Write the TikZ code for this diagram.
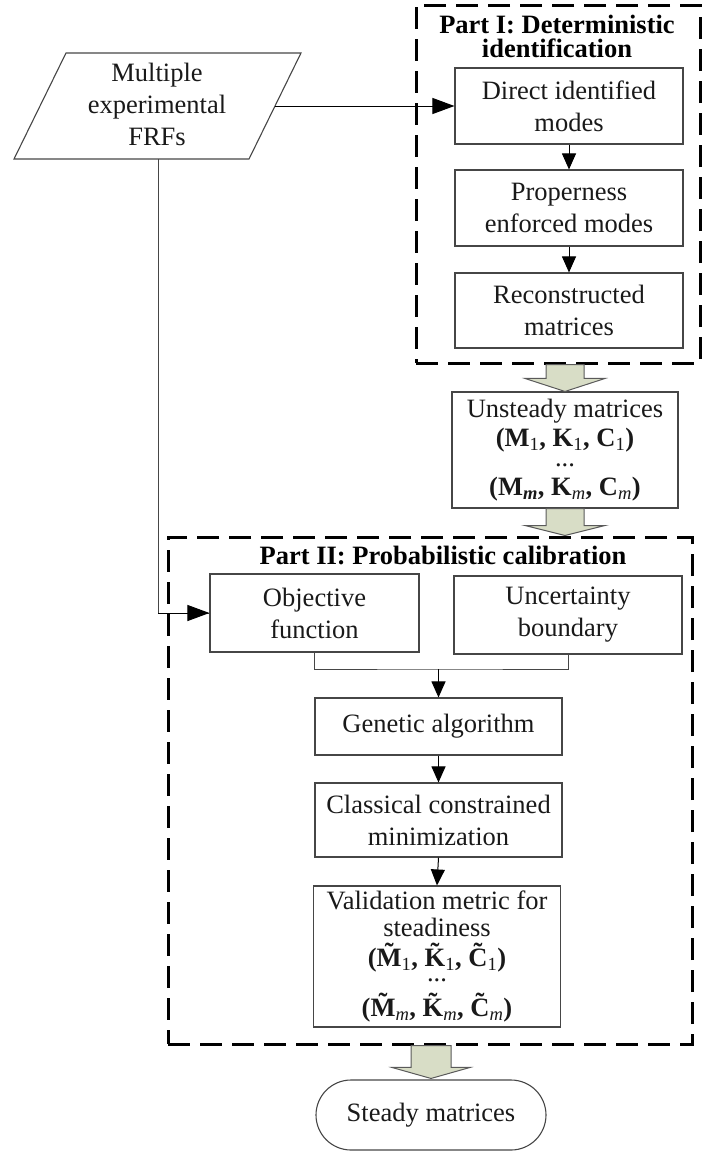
\documentclass[tikz,border=0pt]{standalone}
\usepackage{fontspec}
\setmainfont{Liberation Serif}
\usetikzlibrary{arrows.meta,shapes.misc,calc}
\definecolor{fatfill}{RGB}{216,221,198}
\definecolor{fatline}{RGB}{90,90,90}
\definecolor{boxline}{RGB}{70,70,70}
\newcommand\tld[1]{{\setbox0\hbox{#1}\rlap{\hbox to\wd0{\hss\raisebox{0.2em}{\char"02DC}\hss}}\box0}}
\begin{document}
\begin{tikzpicture}[x=1pt,y=-1pt,
  box/.style={draw=boxline, line width=1.1pt, align=center, inner sep=0pt,
    font=\fontsize{26.5}{32}\selectfont, text=black!90},
  ttl/.style={align=center, inner sep=0pt, font=\fontsize{26.5}{25}\selectfont\bfseries},
  frame/.style={draw=black, line width=3pt, dash pattern=on 22pt off 10pt},
  arrin/.style={-{Triangle[length=22pt,width=16pt]}, line width=1pt, draw=black},
  arr/.style={-{Triangle[length=16pt,width=14pt]}, line width=1pt, draw=black},
  conn/.style={line width=1pt, draw=boxline},
  fat/.style={draw=fatline, fill=fatfill, line width=1pt}]
\useasboundingbox (0,0) rectangle (709,1151);

% input parallelogram
\draw[conn, line width=1.1pt] (14,159) -- (66,53) -- (301,53) -- (249,159) -- cycle;
\node[align=center, inner sep=0pt, font=\fontsize{26.5}{32}\selectfont, text=black!90] (inp) at (157,104) {Multiple\\experimental\\FRFs};
\coordinate (inpR) at (275,106);
\coordinate (inpB) at (158,159);

% Part I
\node[frame, minimum width=284, minimum height=358] (p1) at (558,184) {};
\node[ttl] (t1) at (557,36) {Part I: Deterministic\\[-1pt]identification};
\node[box, minimum width=228, minimum height=76] (d1) at (569,106) {Direct identified\\modes};
\node[box, minimum width=228, minimum height=76] (d2) at (569,208) {Properness\\enforced modes};
\node[box, minimum width=228, minimum height=75] (d3) at (569,310.5) {Reconstructed\\matrices};

% Unsteady
\node[box, minimum width=226, minimum height=116, font=\fontsize{26.5}{29}\selectfont] (uns) at (565,450)
 {Unsteady matrices\\
  \textbf{(M}\textsubscript{1}\textbf{, K}\textsubscript{1}\textbf{, C}\textsubscript{1}\textbf{)}\\[-9pt]
  ...\\
  \textbf{(M}\textsubscript{\textbf{\textit{m}}}\textbf{, K}\textsubscript{\textit{m}}\textbf{, C}\textsubscript{\textit{m}}\textbf{)}};

% Part II
\node[frame, minimum width=524, minimum height=507] (p2) at (430,790.5) {};
\node[ttl] (t2) at (443,555) {Part II: Probabilistic calibration};
\node[box, minimum width=209, minimum height=78] (obj) at (314.5,613) {Objective\\function};
\node[box, minimum width=228, minimum height=78] (unc) at (568,615) {Uncertainty\\boundary};
\node[box, minimum width=247, minimum height=57] (gen) at (438.5,726.5) {Genetic algorithm};
\node[box, minimum width=247, minimum height=74] (cla) at (438.5,820) {Classical constrained\\minimization};
\node[box, minimum width=247, minimum height=141, font=\fontsize{26.5}{27}\selectfont] (val) at (437,956.5)
 {Validation metric for\\steadiness\\[3pt]
  \textbf{(\tld{M}}\textsubscript{1}\textbf{, \tld{K}}\textsubscript{1}\textbf{, \tld{C}}\textsubscript{1}\textbf{)}\\[-12pt]
  ...\\[8pt]
  \textbf{(\tld{M}}\textsubscript{\textit{m}}\textbf{, \tld{K}}\textsubscript{\textit{m}}\textbf{, \tld{C}}\textsubscript{\textit{m}}\textbf{)}};

\node[box, rounded rectangle, minimum width=230, minimum height=70] (std) at (431,1115) {Steady matrices};

% connectors
\draw[arrin] (inpR) -- (d1.west);
\draw[arr] (d1.south) -- (d2.north);
\draw[arr] (d2.south) -- (d3.north);
\draw[conn] (inpB) |- coordinate[pos=0.5] (corner) (obj.west);
\draw[arrin] (corner) -- (obj.west);
\coordinate (mrg) at (438.5,669);
\draw[conn] (obj.south) |- (mrg) -| (unc.south);
\draw[arr] (mrg) -- (gen.north);
\draw[arr] (gen.south) -- (cla.north);
\draw[arr] (cla.south) -- (val.north);

% fat arrows
\draw[fat] let \p1=(p1.south), \p2=(uns.north) in
  (546pt,\y1) -- (546pt,\y2+13pt) -- (525pt,\y2+13pt) -- (565pt,\y2) -- (605pt,\y2+13pt) -- (584pt,\y2+13pt) -- (584pt,\y1) -- cycle;
\draw[fat] let \p1=(uns.south), \p2=(p2.north) in
  (546pt,\y1) -- (546pt,\y2+10pt) -- (525pt,\y2+10pt) -- (565pt,\y2) -- (605pt,\y2+10pt) -- (584pt,\y2+10pt) -- (584pt,\y1) -- cycle;
\draw[fat] let \p1=(p2.south), \p2=(std.north) in
  (411pt,\y1) -- (411pt,\y2+12pt) -- (392pt,\y2+12pt) -- (431pt,\y2+1pt) -- (470pt,\y2+12pt) -- (451pt,\y2+12pt) -- (451pt,\y1) -- cycle;
\end{tikzpicture}
\end{document}
